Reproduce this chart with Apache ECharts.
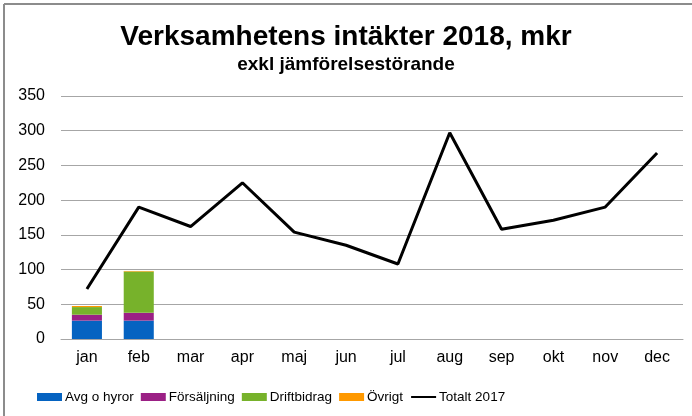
<!DOCTYPE html>
<html>
<head>
<meta charset="utf-8">
<script src="https://cdn.jsdelivr.net/npm/echarts@6/dist/echarts.min.js"></script>
<style>
  html, body { margin: 0; padding: 0; background: #fff; }
  #chart { width: 692px; height: 416px; }
</style>
</head>
<body>
<div id="chart"></div>
<script>
// månader
var months = ['jan', 'feb', 'mar', 'apr', 'maj', 'jun', 'jul', 'aug', 'sep', 'okt', 'nov', 'dec'];
// 2018 (bara jan, feb hittills)
var avgHyror = [26.5, 26.5];
var forsaljning = [8.5, 11.2];
var driftbidrag = [11, 59.5];
var ovrigt = [1.5, 0.8];
// jämförelse 2017
var totalt2017 = [72, 190, 162, 225, 154, 135, 108, 297, 158, 171, 190, 268];

var myChart = echarts.init(document.getElementById('chart'));

var fontFam = '"Liberation Sans", Arial, sans-serif';

var option = {
  animation: false,
  textStyle: { fontFamily: fontFam },
  title: {
    text: 'Verksamhetens intäkter 2018, mkr',
    subtext: 'exkl jämförelsestörande',
    left: 'center',
    top: 18,
    itemGap: 4,
    textStyle: { fontSize: 28, fontWeight: 'bold', color: '#000', fontFamily: fontFam },
    subtextStyle: { fontSize: 19, fontWeight: 'bold', color: '#000', fontFamily: fontFam }
  },
  legend: {
    left: 37,
    top: 390,
    padding: 0,
    itemWidth: 25,
    itemHeight: 8,
    itemGap: 7,
    textStyle: { fontSize: 13.5, color: '#000', padding: [0, 0, 0, -2] },
    data: [
      { name: 'Avg o hyror', icon: 'rect' },
      { name: 'Försäljning', icon: 'rect' },
      { name: 'Driftbidrag', icon: 'rect' },
      { name: 'Övrigt', icon: 'rect' },
      { name: 'Totalt 2017', itemStyle: { opacity: 0 } }
    ]
  },
  grid: { left: 61, right: 9, top: 96, bottom: 77 },
  xAxis: {
    type: 'category',
    data: months,
    axisLine: { lineStyle: { color: '#a6a6a6' } },
    axisTick: { show: false },
    axisLabel: { fontSize: 16, color: '#000', margin: 11 }
  },
  yAxis: {
    type: 'value',
    min: 0,
    max: 350,
    interval: 50,
    axisLine: { show: false },
    axisTick: { show: false },
    splitLine: { lineStyle: { color: '#a6a6a6' } },
    axisLabel: { fontSize: 16, color: '#000', margin: 16 }
  },
  series: [
    { name: 'Avg o hyror', type: 'bar', stack: 'a', barWidth: '58%', data: avgHyror, itemStyle: { color: '#0563C1' } },
    { name: 'Försäljning', type: 'bar', stack: 'a', data: forsaljning, itemStyle: { color: '#9B2085' } },
    { name: 'Driftbidrag', type: 'bar', stack: 'a', data: driftbidrag, itemStyle: { color: '#77B22B' } },
    { name: 'Övrigt', type: 'bar', stack: 'a', data: ovrigt, itemStyle: { color: '#FF9900' } },
    {
      name: 'Totalt 2017', type: 'line', data: totalt2017,
      symbol: 'none',
      lineStyle: { color: '#000', width: 3 },
      itemStyle: { color: '#000' }
    }
  ],
  graphic: [
    { type: 'line', shape: { x1: 4, y1: 4, x2: 692, y2: 4 }, style: { stroke: '#8c8c8c', lineWidth: 2 } },
    { type: 'line', shape: { x1: 4, y1: 4, x2: 4, y2: 416 }, style: { stroke: '#8c8c8c', lineWidth: 2 } }
  ]
};

myChart.setOption(option);
</script>
</body>
</html>
